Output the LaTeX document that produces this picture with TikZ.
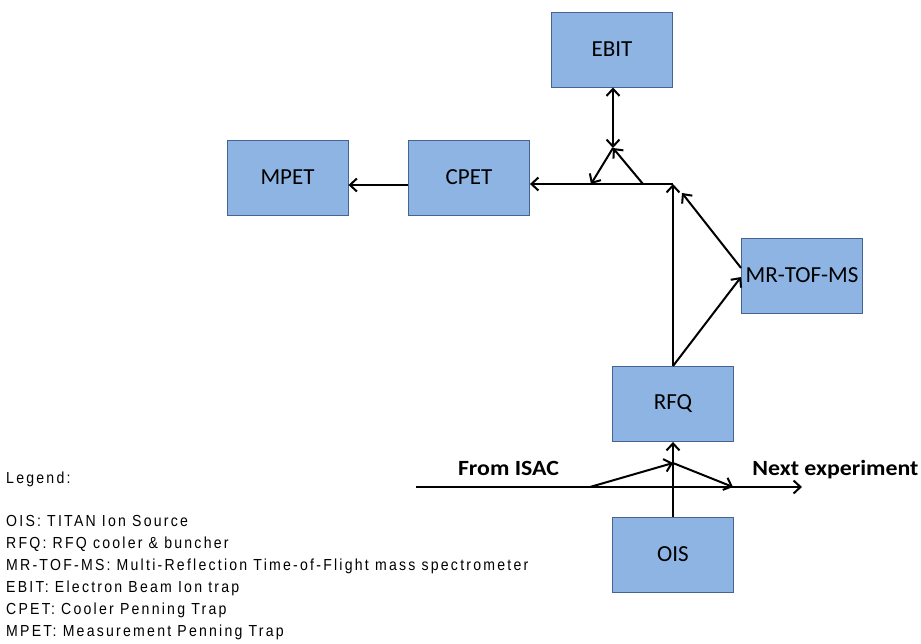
\documentclass[tikz,border=0pt]{standalone}
\usepackage{fontspec}
\setmainfont{Carlito}
\newfontfamily\legendfont[FakeStretch=0.88,LetterSpace=14]{Liberation Sans}
\newfontfamily\lblfont[FakeStretch=1.1]{Carlito}
\usetikzlibrary{arrows.meta}
\definecolor{boxfill}{RGB}{141,180,227}
\definecolor{boxline}{RGB}{70,100,145}
\tikzset{
  unit/.style={draw=boxline, line width=0.9pt, fill=boxfill, minimum width=121pt, minimum height=75pt, inner sep=0pt, font=\fontsize{23}{27}\selectfont},
  beam/.style={line width=2pt, -{Straight Barb[length=7pt,width=13pt,line width=2pt]}},
  beamtwo/.style={line width=2pt, {Straight Barb[length=7pt,width=13pt,line width=2pt]}-{Straight Barb[length=7pt,width=13pt,line width=2pt]}},
  lbl/.style={font=\lblfont\bfseries\fontsize{21.7}{25}\selectfont, inner sep=0pt, anchor=base},
  leg/.style={font=\legendfont\fontsize{16}{19}\selectfont, inner sep=0pt, anchor=base west}
}
\begin{document}
\begin{tikzpicture}[x=1pt,y=-1pt]
\useasboundingbox (0,0) rectangle (921,643);
% boxes
\node[unit] (ebit) at (612,49.5) {EBIT};
\node[unit] (mpet) at (287.5,177.5) {MPET};
\node[unit] (cpet) at (469,177.5) {CPET};
\node[unit] (mrtof) at (802,275.5) {MR-TOF-MS};
\node[unit] (rfq) at (673,404) {RFQ};
\node[unit] (ois) at (673,554.5) {OIS};
% junction coordinates
\coordinate (j) at (673,184);
\coordinate (apex) at (613,148);
\coordinate (tl) at (591,184);
\coordinate (tr) at (643,184);
\coordinate (isac) at (416,487);
\coordinate (next) at (802,487);
\coordinate (b1) at (590,487);
\coordinate (b2) at (673,463);
\coordinate (b3) at (733,487);
% top region
\draw[beam] (cpet.west |- 0,185) -- (mpet.east |- 0,185);
\draw[beam] (j) -- (cpet.east |- j);
\draw[beamtwo] (ebit.south -| apex) -- (apex);
\draw[beam] (apex) -- (tl);
\draw[beam] (tr) -- (apex);
\draw[beam] (rfq.north) -- (j);
\draw[beam] (rfq.north) -- (mrtof.west |- 0,277);
\draw[beam] (mrtof.west |- 0,268) -- (682,193);
% bottom region
\draw[beam] (isac) -- (next);
\draw[beam] (b1) -- (b2);
\draw[beam] (b2) -- (b3);
\draw[beam] (ois.north) -- (rfq.south);
\node[lbl] (fromisac) at (508.5,475) {From ISAC};
\node[lbl] (nextexp) at (835.5,475) {Next experiment};
% legend
\node[leg] (l0) at (6,483) {Legend:};
\node[leg] (l1) at (6,526) {OIS: TITAN Ion Source};
\node[leg] (l2) at (6,548) {RFQ: RFQ cooler \& buncher};
\node[leg] (l3) at (6,570) {MR-TOF-MS: Multi-Reflection Time-of-Flight mass spectrometer};
\node[leg] (l4) at (6,592) {EBIT: Electron Beam Ion trap};
\node[leg] (l5) at (6,614) {CPET: Cooler Penning Trap};
\node[leg] (l6) at (6,636) {MPET: Measurement Penning Trap};
\end{tikzpicture}
\end{document}
